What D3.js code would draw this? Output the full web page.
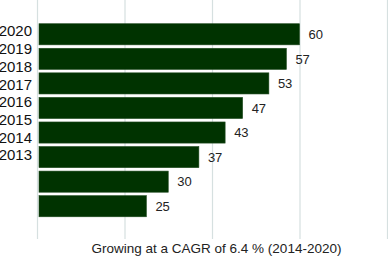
<!DOCTYPE html>
<html>
<head>
<meta charset="utf-8">
<script src="https://cdn.jsdelivr.net/npm/d3@7"></script>
<style>
  body { margin: 0; background: #fff; }
  text { font-family: "Liberation Sans", Arial, sans-serif; }
</style>
</head>
<body>
<div id="container"></div>
<script>
// data
let years = ["2020", "2019", "2018", "2017", "2016", "2015", "2014", "2013"];
let values = [60, 57, 53, 47, 43, 37, 30, 25];
let barKeys = ["b0", "b1", "b2", "b3", "b4", "b5", "b6", "b7"];
let gridTicks = [0, 20, 40, 60, 80];
let caption = "Growing at a CAGR of 6.4 % (2014-2020)";

let width = 388, height = 257;
let svg = d3.select("#container")
    .append("svg")
    .attr("width", width)
    .attr("height", height);

// scales
let xScale = d3.scaleLinear()
    .domain([0, 80])
    .range([37, 387]);

let yScale = d3.scaleBand()
    .domain(barKeys)
    .range([22, 218.5])
    .paddingInner(0.14)
    .paddingOuter(0.07);

// year labels do not line up with the bars in the original
let labelScale = d3.scalePoint()
    .domain(years)
    .range([31, 155]);

// gridlines
svg.append("g")
    .selectAll("line")
    .data(gridTicks)
    .enter()
    .append("line")
    .attr("x1", d => xScale(d) + 0.5)
    .attr("x2", d => xScale(d) + 0.5)
    .attr("y1", 0)
    .attr("y2", 239)
    .attr("stroke", "#d6e0e0")
    .attr("stroke-width", 1.2);

// bars
let bars = values.map((v, i) => ({ key: barKeys[i], value: v }));

svg.append("g")
    .selectAll("rect")
    .data(bars)
    .enter()
    .append("rect")
    .attr("x", xScale(0) + 2)
    .attr("y", d => yScale(d.key))
    .attr("width", d => xScale(d.value) - xScale(0) - 2)
    .attr("height", yScale.bandwidth())
    .attr("fill", "#003300")
    .attr("stroke", "#1f4a1f")
    .attr("stroke-width", 0.6);

// value labels
svg.append("g")
    .selectAll("text")
    .data(bars)
    .enter()
    .append("text")
    .attr("x", d => xScale(d.value) + 9)
    .attr("y", d => yScale(d.key) + yScale.bandwidth() / 2)
    .attr("dy", "0.36em")
    .attr("font-size", "13px")
    .attr("fill", "#222")
    .text(d => d.value);

// year labels
svg.append("g")
    .selectAll("text")
    .data(years)
    .enter()
    .append("text")
    .attr("x", 32)
    .attr("y", d => labelScale(d))
    .attr("dy", "0.36em")
    .attr("text-anchor", "end")
    .attr("font-size", "15px")
    .attr("fill", "#111")
    .text(d => d);

// caption
svg.append("text")
    .attr("x", 216.5)
    .attr("y", 252.5)
    .attr("text-anchor", "middle")
    .attr("font-size", "13.5px")
    .attr("fill", "#222")
    .text(caption);
</script>
</body>
</html>
